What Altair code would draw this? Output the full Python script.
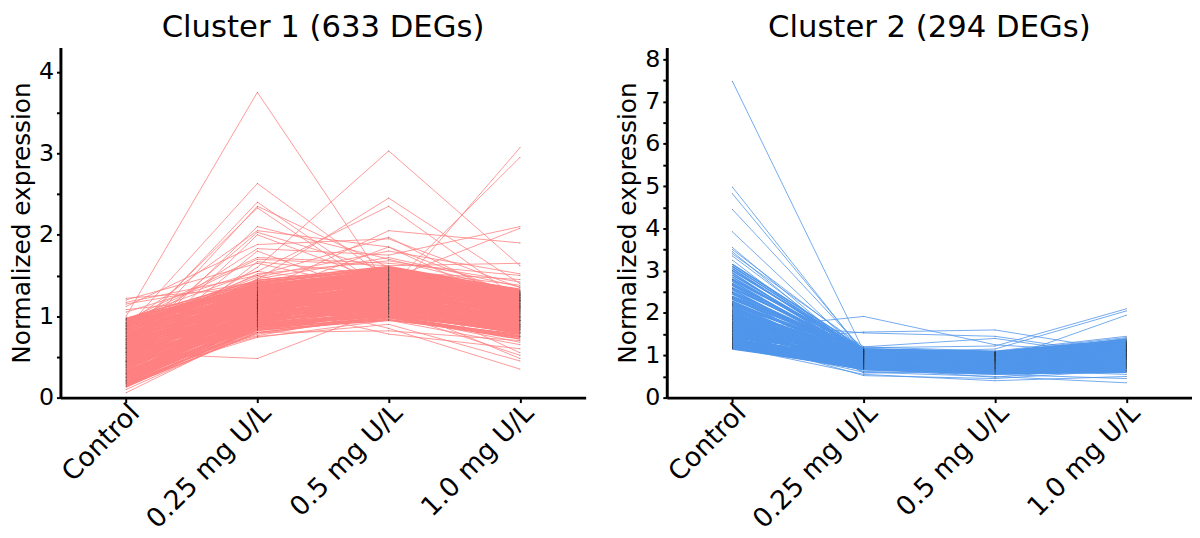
import altair as alt
import pandas as pd

conditions = ["Control", "0.25 mg U/L", "0.5 mg U/L", "1.0 mg U/L"]
titles = ["Cluster 1 (633 DEGs)", "Cluster 2 (294 DEGs)"]

# ---------------- Cluster 1 ----------------
# first 120 genes form the dense band, the rest are the scattered ones
c1_control = [
    0.14, 0.15, 0.17, 0.18, 0.20, 0.21, 0.22, 0.24, 0.25, 0.26,
    0.27, 0.28, 0.30, 0.31, 0.32, 0.33, 0.34, 0.35, 0.37, 0.38,
    0.39, 0.40, 0.41, 0.42, 0.43, 0.44, 0.45, 0.46, 0.47, 0.48,
    0.49, 0.50, 0.51, 0.52, 0.53, 0.54, 0.55, 0.56, 0.57, 0.58,
    0.59, 0.60, 0.61, 0.62, 0.63, 0.64, 0.65, 0.66, 0.67, 0.68,
    0.69, 0.70, 0.71, 0.72, 0.73, 0.74, 0.75, 0.76, 0.77, 0.78,
    0.79, 0.80, 0.81, 0.82, 0.83, 0.84, 0.85, 0.86, 0.87, 0.88,
    0.89, 0.90, 0.91, 0.92, 0.93, 0.94, 0.95, 0.96, 0.97, 0.97,
    0.16, 0.19, 0.23, 0.29, 0.36, 0.44, 0.52, 0.60, 0.68, 0.76,
    0.84, 0.92, 0.18, 0.25, 0.33, 0.41, 0.49, 0.57, 0.65, 0.73,
    0.81, 0.89, 0.21, 0.31, 0.43, 0.55, 0.67, 0.79, 0.91, 0.29,
    0.47, 0.63, 0.83, 0.37, 0.53, 0.71, 0.87, 0.13, 0.45, 0.61,
    1.00, 0.85, 0.70, 0.60, 0.75, 0.55, 0.90, 0.65, 0.45, 1.12,
    0.80, 0.50, 0.95, 0.40, 0.62, 0.72, 1.05, 0.58, 0.88, 0.35,
    0.78, 0.68, 1.22, 0.55, 1.20, 1.17, 1.08, 0.98, 0.30, 0.25,
    0.20, 0.45, 0.38, 0.10, 0.06, 0.92, 0.85, 0.75, 0.66, 1.15,
    0.97, 0.96,
]
c1_025 = [
    0.80, 0.86, 0.83, 0.90, 0.88, 0.84, 0.93, 0.87, 0.91, 0.95,
    0.89, 0.97, 0.92, 1.00, 0.94, 0.98, 0.90, 1.02, 0.96, 1.04,
    0.99, 1.05, 0.95, 1.08, 1.01, 1.10, 0.97, 1.06, 1.03, 1.12,
    1.04, 1.11, 1.00, 1.14, 1.07, 1.16, 1.02, 1.13, 1.09, 1.18,
    1.06, 1.15, 1.10, 1.20, 1.08, 1.17, 1.12, 1.22, 1.05, 1.19,
    1.14, 1.24, 1.11, 1.26, 1.16, 1.21, 1.13, 1.28, 1.18, 1.25,
    1.20, 1.30, 1.17, 1.32, 1.23, 1.27, 1.19, 1.34, 1.25, 1.36,
    1.28, 1.38, 1.31, 1.40, 1.33, 1.42, 1.29, 1.37, 1.44, 1.35,
    0.84, 0.92, 0.88, 0.98, 1.03, 1.00, 1.10, 1.12, 1.18, 1.15,
    1.26, 1.30, 0.95, 1.01, 0.93, 1.07, 1.14, 1.09, 1.20, 1.22,
    1.16, 1.33, 0.90, 1.06, 1.13, 1.02, 1.24, 1.29, 1.39, 1.08,
    1.19, 1.27, 1.41, 0.96, 1.21, 1.11, 1.35, 0.87, 1.05, 1.23,
    3.75, 2.63, 2.40, 2.35, 2.33, 2.10, 2.05, 2.03, 2.00, 1.88,
    1.83, 1.80, 1.72, 1.67, 1.60, 1.45, 1.55, 1.30, 1.50, 1.25,
    1.40, 1.20, 1.35, 0.48, 1.65, 1.50, 1.25, 1.15, 0.75, 0.74,
    0.78, 0.80, 0.76, 0.82, 0.85, 1.70, 1.48, 1.52, 1.46, 1.42,
    1.10, 1.55,
]
c1_05 = [
    0.98, 1.05, 0.95, 1.10, 1.02, 0.99, 1.15, 1.08, 1.00, 1.12,
    1.06, 1.18, 1.03, 1.22, 1.09, 1.14, 1.01, 1.25, 1.11, 1.20,
    1.13, 1.28, 1.07, 1.30, 1.17, 1.35, 1.04, 1.24, 1.19, 1.32,
    1.21, 1.38, 1.10, 1.42, 1.26, 1.33, 1.08, 1.40, 1.23, 1.45,
    1.16, 1.36, 1.27, 1.48, 1.12, 1.39, 1.29, 1.50, 1.14, 1.44,
    1.31, 1.52, 1.24, 1.47, 1.34, 1.43, 1.20, 1.55, 1.37, 1.49,
    1.41, 1.56, 1.30, 1.53, 1.45, 1.51, 1.33, 1.58, 1.46, 1.54,
    1.48, 1.57, 1.42, 1.60, 1.50, 1.59, 1.44, 1.55, 1.61, 1.52,
    1.04, 1.12, 1.00, 1.16, 1.23, 1.10, 1.30, 1.35, 1.28, 1.40,
    1.46, 1.50, 1.20, 1.09, 1.14, 1.27, 1.37, 1.21, 1.44, 1.33,
    1.26, 1.56, 1.03, 1.31, 1.18, 1.25, 1.42, 1.39, 1.53, 1.29,
    1.15, 1.47, 1.58, 1.22, 1.36, 1.06, 1.51, 0.96, 1.34, 1.19,
    1.35, 1.45, 1.30, 1.60, 1.25, 1.70, 1.85, 1.55, 1.40, 1.95,
    1.75, 1.20, 1.65, 1.50, 3.03, 2.45, 2.35, 2.05, 1.97, 1.85,
    1.20, 1.35, 1.45, 1.10, 1.30, 1.15, 0.85, 0.78, 0.90, 0.95,
    1.00, 0.82, 1.05, 0.98, 1.08, 1.62, 1.80, 1.68, 1.72, 1.58,
    1.25, 1.35,
]
c1_10 = [
    0.72, 0.85, 0.78, 0.95, 0.80, 0.75, 0.98, 0.88, 0.82, 1.00,
    0.86, 1.02, 0.79, 1.08, 0.90, 0.96, 0.84, 1.10, 0.93, 1.05,
    0.92, 1.12, 0.83, 1.15, 0.97, 1.18, 0.88, 1.06, 1.01, 1.20,
    0.95, 1.16, 0.87, 1.22, 1.03, 1.11, 0.90, 1.19, 1.00, 1.25,
    0.89, 1.13, 1.04, 1.24, 0.86, 1.17, 1.07, 1.27, 0.84, 1.21,
    1.06, 1.26, 0.98, 1.20, 1.09, 1.23, 0.94, 1.28, 1.12, 1.18,
    1.14, 1.29, 1.02, 1.25, 1.16, 1.22, 1.08, 1.30, 1.19, 1.27,
    1.21, 1.31, 1.13, 1.28, 1.24, 1.33, 1.17, 1.26, 1.32, 1.23,
    0.81, 0.90, 0.76, 0.94, 1.07, 0.99, 1.13, 1.09, 1.04, 1.20,
    1.18, 1.26, 0.98, 0.85, 0.91, 1.05, 1.14, 0.97, 1.22, 1.10,
    1.01, 1.29, 0.83, 1.03, 0.88, 0.94, 1.16, 1.12, 1.24, 0.92,
    0.87, 1.19, 1.27, 1.00, 1.08, 0.79, 1.23, 0.74, 1.11, 0.95,
    1.10, 1.20, 1.05, 1.15, 0.95, 1.30, 1.25, 1.45, 1.12, 1.35,
    2.10, 1.00, 1.50, 1.28, 1.62, 1.40, 1.20, 1.90, 1.15, 1.10,
    3.07, 2.95, 2.08, 0.95, 0.55, 0.48, 0.35, 0.60, 0.45, 0.65,
    0.68, 0.70, 0.52, 0.75, 0.90, 1.65, 1.52, 1.42, 1.36, 1.38,
    1.30, 0.80,
]

# ---------------- Cluster 2 ----------------
# first 110 genes form the dense band, the rest are the scattered ones
c2_control = [
    1.15, 1.17, 1.19, 1.21, 1.23, 1.25, 1.28, 1.30, 1.33, 1.35,
    1.38, 1.40, 1.43, 1.45, 1.48, 1.50, 1.53, 1.55, 1.58, 1.60,
    1.63, 1.65, 1.68, 1.70, 1.73, 1.75, 1.78, 1.80, 1.84, 1.87,
    1.90, 1.93, 1.96, 2.00, 2.03, 2.06, 2.10, 2.13, 2.17, 2.20,
    2.24, 2.28, 2.32, 2.36, 2.40, 2.45, 2.50, 2.55, 2.60, 2.65,
    2.70, 2.75, 2.80, 2.85, 2.90, 2.95, 3.00, 3.05, 3.10, 3.15,
    1.26, 1.36, 1.46, 1.56, 1.66, 1.76, 1.86, 1.98, 2.15, 2.35,
    1.16, 1.20, 1.24, 1.29, 1.32, 1.37, 1.42, 1.47, 1.52, 1.57,
    1.62, 1.67, 1.72, 1.77, 1.82, 1.89, 1.95, 2.02, 2.08, 2.18,
    2.26, 2.38, 2.48, 2.58, 2.68, 2.78, 1.18, 1.22, 1.27, 1.31,
    1.39, 1.44, 1.51, 1.59, 1.64, 1.74, 1.85, 1.92, 2.05, 2.22,
    7.48, 4.98, 4.82, 4.45, 3.92, 3.55, 3.50, 3.45, 3.40, 3.35,
    3.25, 1.60, 1.35, 1.80, 1.25, 2.20, 1.50, 1.95, 1.40, 1.20,
    1.30, 1.70, 2.50, 1.18, 2.80, 3.00,
]
c2_025 = [
    0.72, 0.80, 0.68, 0.88, 0.75, 0.92, 0.70, 0.85, 0.98, 0.78,
    0.90, 0.74, 1.00, 0.82, 0.95, 0.69, 0.87, 1.03, 0.77, 0.93,
    0.81, 1.05, 0.73, 0.97, 0.86, 1.08, 0.79, 0.94, 1.02, 0.84,
    0.99, 0.76, 1.06, 0.89, 1.10, 0.83, 1.01, 0.91, 1.12, 0.87,
    1.04, 0.95, 1.09, 0.85, 1.13, 0.98, 1.07, 0.92, 1.11, 1.00,
    1.05, 0.96, 1.14, 1.02, 1.08, 0.94, 1.12, 1.03, 1.10, 1.15,
    0.66, 0.71, 0.79, 0.84, 0.90, 0.96, 1.01, 1.04, 0.93, 1.09,
    0.75, 0.83, 0.70, 0.90, 0.78, 0.96, 0.73, 1.00, 0.86, 1.04,
    0.80, 1.07, 0.88, 1.11, 0.92, 1.01, 0.97, 1.09, 1.05, 1.13,
    0.94, 1.10, 1.03, 1.12, 1.06, 1.14, 0.67, 0.77, 0.85, 0.93,
    0.81, 0.99, 0.89, 1.02, 0.74, 1.08, 0.95, 1.06, 1.00, 1.11,
    1.10, 1.05, 1.08, 1.12, 1.00, 0.95, 1.15, 0.90, 1.20, 1.02,
    0.88, 1.92, 1.55, 1.53, 1.20, 1.18, 1.05, 0.95, 0.52, 0.55,
    0.60, 0.62, 0.58, 0.70, 1.16, 1.10,
]
c2_05 = [
    0.65, 0.78, 0.60, 0.85, 0.70, 0.90, 0.62, 0.80, 0.95, 0.72,
    0.88, 0.68, 0.98, 0.76, 0.92, 0.58, 0.83, 1.00, 0.71, 0.89,
    0.75, 1.02, 0.66, 0.94, 0.81, 1.05, 0.73, 0.91, 0.99, 0.79,
    0.96, 0.69, 1.03, 0.86, 1.06, 0.77, 0.97, 0.87, 1.08, 0.82,
    1.01, 0.90, 1.04, 0.80, 1.07, 0.93, 1.02, 0.88, 1.06, 0.95,
    1.00, 0.91, 1.08, 0.97, 1.03, 0.89, 1.05, 0.99, 1.04, 1.07,
    0.56, 0.64, 0.74, 0.81, 0.86, 0.93, 0.98, 1.00, 0.84, 1.02,
    0.68, 0.80, 0.63, 0.87, 0.74, 0.92, 0.67, 0.96, 0.84, 1.00,
    0.78, 1.03, 0.85, 1.06, 0.89, 0.98, 0.94, 1.04, 1.01, 1.08,
    0.91, 1.05, 0.99, 1.07, 1.02, 1.06, 0.59, 0.72, 0.82, 0.88,
    0.76, 0.95, 0.86, 0.99, 0.70, 1.04, 0.92, 1.02, 0.97, 1.05,
    0.95, 0.90, 1.00, 0.85, 0.92, 1.05, 0.80, 0.70, 1.10, 0.98,
    0.75, 1.25, 1.60, 1.45, 1.40, 1.22, 1.15, 0.85, 0.45, 0.40,
    0.50, 0.55, 0.65, 0.48, 1.10, 1.08,
]
c2_10 = [
    0.70, 0.88, 0.65, 0.98, 0.78, 1.05, 0.68, 0.92, 1.12, 0.80,
    1.00, 0.74, 1.15, 0.85, 1.08, 0.62, 0.95, 1.20, 0.76, 1.03,
    0.83, 1.22, 0.71, 1.10, 0.90, 1.25, 0.79, 1.06, 1.18, 0.87,
    1.13, 0.75, 1.24, 0.97, 1.28, 0.84, 1.16, 1.01, 1.30, 0.93,
    1.19, 1.04, 1.27, 0.91, 1.32, 1.09, 1.21, 0.99, 1.26, 1.11,
    1.23, 1.07, 1.35, 1.14, 1.29, 1.02, 1.33, 1.17, 1.31, 1.38,
    0.60, 0.69, 0.82, 0.89, 0.96, 1.10, 1.14, 1.20, 1.00, 1.25,
    0.73, 0.93, 0.67, 1.02, 0.81, 1.11, 0.72, 1.17, 0.94, 1.21,
    0.86, 1.24, 0.98, 1.28, 1.05, 1.15, 1.08, 1.26, 1.19, 1.33,
    1.03, 1.30, 1.12, 1.34, 1.22, 1.36, 0.63, 0.78, 0.91, 1.00,
    0.84, 1.09, 0.96, 1.14, 0.77, 1.23, 1.06, 1.18, 1.13, 1.27,
    1.00, 1.10, 0.95, 1.05, 1.20, 1.30, 0.90, 0.85, 1.15, 1.40,
    0.80, 1.05, 1.10, 1.00, 0.95, 2.10, 2.05, 1.95, 0.65, 0.50,
    0.35, 0.45, 0.55, 0.75, 1.45, 1.42,
]

N_CORE_1 = 120
N_CORE_2 = 110
FONT = "DejaVu Sans"


def to_long(prefix, series, n_core):
    rows = []
    for i, vals in enumerate(zip(*series)):
        for cond, v in zip(conditions, vals):
            rows.append(
                {"gene": f"{prefix}{i}", "cond": cond, "value": v, "core": i < n_core}
            )
    return pd.DataFrame(rows)


def panel(df, title, color, ymax, ytop):
    ticks = [k / 2 for k in range(0, int(ytop * 2) + 1)]
    x = alt.X(
        "cond:N",
        sort=conditions,
        scale=alt.Scale(type="point", padding=0.5),
        axis=alt.Axis(
            title=None,
            labelAngle=-45,
            labelAlign="right",
            labelBaseline="middle",
            labelFontSize=27,
            labelPadding=6,
            labelOffset=9,
            tickSize=5,
        ),
    )
    y = alt.Y(
        "value:Q",
        scale=alt.Scale(domain=[0, ymax], nice=False, zero=True),
        axis=alt.Axis(
            title="Normalized expression",
            values=ticks,
            labelExpr="datum.value % 1 === 0 ? format(datum.value, 'd') : ''",
            grid=False,
            tickSize=4,
            labelFontSize=24,
            labelPadding=3,
            titleFontSize=25,
            titlePadding=4,
        ),
    )
    base = alt.Chart(df)
    core = base.transform_filter("datum.core").mark_line(
        color=color, strokeWidth=1.6
    ).encode(x=x, y=y, detail="gene:N")
    loose = base.transform_filter("!datum.core").mark_line(
        color=color, strokeWidth=0.8
    ).encode(x=x, y=y, detail="gene:N")
    pts = base.mark_circle(color="#333333", size=1, opacity=0.7).encode(x=x, y=y)
    return alt.layer(loose, core, pts).properties(
        width=531,
        height=354,
        title=alt.TitleParams(
            title, fontSize=31, font=FONT, fontWeight="normal", color="black", offset=4
        ),
    )


df1 = to_long("a", [c1_control, c1_025, c1_05, c1_10], N_CORE_1)
df2 = to_long("b", [c2_control, c2_025, c2_05, c2_10], N_CORE_2)

chart = (
    alt.hconcat(
        panel(df1, titles[0], "#ff8080", 4.3, 4.0),
        panel(df2, titles[1], "#5096eb", 8.28, 8.0),
        spacing=30,
    )
    .properties(padding={"left": 1, "top": 0, "right": 0, "bottom": 0})
    .configure_view(stroke=None)
    .configure_axis(
        domainColor="black",
        domainWidth=3,
        tickColor="black",
        tickWidth=2,
        labelColor="black",
        titleColor="black",
        labelFont=FONT,
        titleFont=FONT,
        titleFontWeight="normal",
    )
    .configure_title(font=FONT)
)

chart.save("out.html", embed_options={"renderer": "svg", "actions": False})
